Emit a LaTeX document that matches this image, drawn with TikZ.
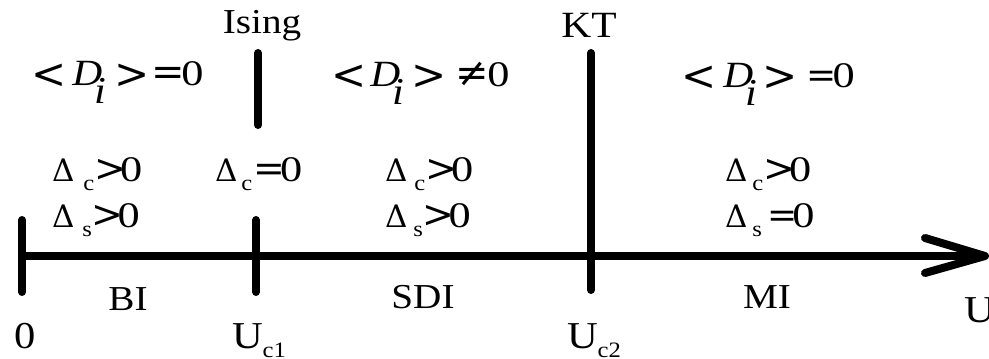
\RequirePackage{fix-cm}
\documentclass[tikz,border=0pt]{standalone}
\usepackage{fontspec}
\setmainfont{Liberation Serif}[FakeStretch=1.12,ItalicFont={Liberation Serif Italic}]
\newfontfamily\dv{DejaVu Serif}
\usepackage{graphicx}
\newcommand\fs[1]{\fontsize{#1}{#1}\selectfont}
% symbol with side bearings trimmed
\newcommand\dsym[2]{{\dv\fs{#1}\hspace{-0.08em}#2\hspace{-0.08em}}}
\newcommand\blt{\raisebox{-3pt}{\dsym{42}{<}}}
\newcommand\bgt{\raisebox{-3pt}{\dsym{42}{>}}}
\newcommand\Z{\scalebox{1.1}[1]{\fs{36}0}}
\newcommand\lsub[1]{\raisebox{-9pt}{\fs{22}#1}}
\newcommand\Dl{{\dv\fs{31}Δ}}
% <D_i> with gaps: after <, after i
\newcommand\Di[2]{\blt\hspace{#1}{\fs{37}\textit{D}}\hspace{-7.5pt}\raisebox{-18pt}{\fs{38}\textit{i}}\hspace{#2}\bgt}
\begin{document}
\begin{tikzpicture}[x=1pt,y=-1pt,
  bar/.style={line width=8pt,line cap=round},
  lbl/.style={inner sep=0pt,outer sep=0pt,font=\fs{35}},
  big/.style={inner sep=0pt,outer sep=0pt,font=\fs{38}}]
\useasboundingbox (0,0) rectangle (989,359);
% axis
\coordinate (o) at (22,256);
\coordinate (tip) at (985,256);
\coordinate (ah1) at (925,238);
\coordinate (ah2) at (925,273);
\coordinate (t0a) at (22,220);
\coordinate (t0b) at (22,292);
\coordinate (t1a) at (256,220);
\coordinate (t1b) at (256,292);
\coordinate (isa) at (258,53);
\coordinate (isb) at (258,125);
\coordinate (kta) at (591,53);
\coordinate (ktb) at (591,290);
\draw[line width=8pt] (o) -- (tip);
\draw[bar,line join=round] (ah1) -- (tip) -- (ah2);
\draw[bar] (t0a) -- (t0b);
\draw[bar] (t1a) -- (t1b);
\draw[bar] (isa) -- (isb);
\draw[bar] (kta) -- (ktb);
% top labels
\node[lbl,anchor=base] (ising) at (262,33) {Ising};
\node[lbl,anchor=base,font=\fs{37}] (kt) at (589,37) {KT};
% order parameter
\node[lbl,anchor=base west] (d1) at (35,85) {\Di{9pt}{11pt}\hspace{9pt}\dsym{40}{=}\hspace{-1pt}\Z};
\node[lbl,anchor=base west] (d2) at (335,86) {\Di{7pt}{10pt}\hspace{16pt}\dsym{40}{≠}\hspace{1pt}\Z};
\node[lbl,anchor=base west] (d3) at (685,87) {\Di{10pt}{8pt}\hspace{15pt}\dsym{36}{=}\hspace{-1pt}\Z};
% gaps
\node[lbl,anchor=base west] (c1) at (52,181) {\Dl\hspace{9pt}\lsub{c}\hspace{3pt}\dsym{38}{>}\hspace{-3pt}\Z};
\node[lbl,anchor=base west] (s1) at (52,227) {\Dl\hspace{8pt}\lsub{s}\hspace{3pt}\dsym{38}{>}\hspace{-3pt}\Z};
\node[lbl,anchor=base west] (c0) at (215,181) {\Dl\hspace{4pt}\lsub{c}\hspace{4pt}\dsym{38}{=}\hspace{-2pt}\Z};
\node[lbl,anchor=base west] (c2) at (385,181) {\Dl\hspace{7pt}\lsub{c}\hspace{3pt}\dsym{38}{>}\hspace{-3pt}\Z};
\node[lbl,anchor=base west] (s2) at (385,227) {\Dl\hspace{6pt}\lsub{s}\hspace{3pt}\dsym{38}{>}\hspace{-3pt}\Z};
\node[lbl,anchor=base west] (c3) at (725,181) {\Dl\hspace{5pt}\lsub{c}\hspace{3pt}\dsym{38}{>}\hspace{-3pt}\Z};
\node[lbl,anchor=base west] (s3) at (725,227) {\Dl\hspace{5pt}\lsub{s}\hspace{8pt}\dsym{36}{=}\hspace{-2pt}\Z};
% phases
\node[lbl,anchor=base] (bi) at (128,310) {BI};
\node[lbl,anchor=base] (sdi) at (423,308) {SDI};
\node[lbl,anchor=base] (mi) at (767,308) {MI};
% axis values
\node[big,anchor=base west] (zero) at (14,348) {0};
\node[big,anchor=base west] (uc1) at (232,348) {U\lsub{c1}};
\node[big,anchor=base west] (uc2) at (567,348) {U\lsub{c2}};
\node[big,anchor=base west] (u) at (964,322) {U};
\end{tikzpicture}
\end{document}
